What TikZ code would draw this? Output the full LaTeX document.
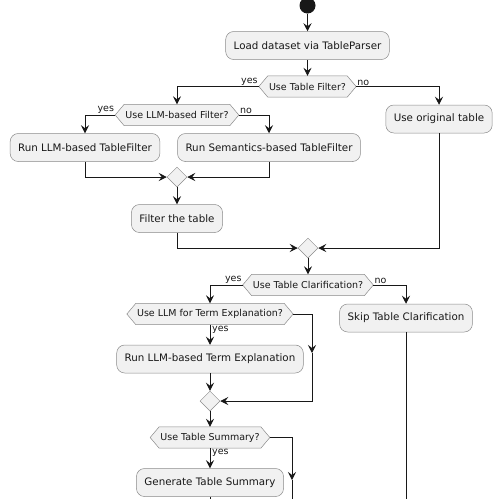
\documentclass[tikz,border=0pt]{standalone}
\usepackage{fontspec}
\setmainfont{DejaVu Sans}
\usetikzlibrary{arrows.meta,shapes.geometric,backgrounds}
\definecolor{boxfill}{HTML}{F1F1F1}
\definecolor{linecol}{HTML}{181818}
\definecolor{bordercol}{HTML}{8A8A8A}
\tikzset{
  actbox/.style={rectangle, rounded corners=8pt, draw=bordercol, fill=boxfill, line width=0.5pt,
    minimum height=28pt, inner xsep=8pt, inner ysep=0pt, font=\fontsize{10.3}{12}\selectfont, text=linecol},
  hexbox/.style={rectangle, minimum height=21pt, inner xsep=10pt, inner ysep=0pt,
    font=\fontsize{9.5}{11}\selectfont, text=linecol},
  hexline/.style={draw=bordercol, fill=boxfill, line width=0.5pt},
  merge/.style={diamond, draw=bordercol, fill=boxfill, line width=0.5pt, minimum width=20pt, minimum height=20pt, inner sep=0pt},
  startdot/.style={circle, fill=linecol, minimum size=16pt, inner sep=0pt},
  flow/.style={draw=linecol, line width=0.8pt},
  arr/.style={flow, -{Stealth[length=8pt,width=8pt,inset=3pt]}},
  lbl/.style={font=\fontsize{9.5}{11}\selectfont, text=linecol, inner sep=1pt},
}
\begin{document}
\begin{tikzpicture}[x=1pt,y=-1pt]
\useasboundingbox (0,0) rectangle (500,499);
\node[startdot] (start) at (307.5,5.5) {};
\node[actbox] (b1) at (307.5,45.5) {Load dataset via TableParser};
\node[hexbox] (d1) at (307.5,86.5) {Use Table Filter?};
\node[hexbox] (d2) at (177,115) {Use LLM-based Filter?};
\node[actbox] (b2) at (439,119) {Use original table};
\node[actbox] (b3) at (85,147.5) {Run LLM-based TableFilter};
\node[actbox] (b4) at (269,147.5) {Run Semantics-based TableFilter};
\node[merge] (m1) at (177,177) {};
\node[actbox] (b5) at (177,218.5) {Filter the table};
\node[merge] (m2) at (308,248) {};
\node[hexbox] (d3) at (308,285) {Use Table Clarification?};
\node[hexbox] (d4) at (210,314) {Use LLM for Term Explanation?};
\node[actbox] (b6) at (406,318) {Skip Table Clarification};
\node[actbox] (b7) at (210,359) {Run LLM-based Term Explanation};
\node[merge] (m3) at (210,401) {};
\node[hexbox] (d5) at (210,437.5) {Use Table Summary?};
\node[actbox] (b8) at (210,482.5) {Generate Table Summary};
\begin{scope}[on background layer]
\foreach \n in {d1,d2,d3,d4,d5}
  \draw[hexline] (\n.west) -- ([xshift=9pt]\n.north west) -- ([xshift=-9pt]\n.north east)
    -- (\n.east) -- ([xshift=-9pt]\n.south east) -- ([xshift=9pt]\n.south west) -- cycle;
\end{scope}
\coordinate (t1) at (312,353);
\coordinate (t2) at (292,480);
\coordinate (e1) at (292,499);
\coordinate (e2) at (406,499);
\coordinate (e3) at (210,499);
% connectors
\draw[arr] (start) -- (b1);
\draw[arr] (b1) -- (d1);
\draw[arr] (d1.west) -| (d2.north);
\draw[arr] (d1.east) -| (b2.north);
\node[lbl, anchor=south east] at (d1.west) {yes};
\node[lbl, anchor=south west] at (d1.east) {no};
\draw[arr] (d2.west) -| (b3.north);
\draw[arr] (d2.east) -| (b4.north);
\node[lbl, anchor=south east] at (d2.west) {yes};
\node[lbl, anchor=south west] at (d2.east) {no};
\draw[arr] (b3.south) |- (m1.west);
\draw[arr] (b4.south) |- (m1.east);
\draw[arr] (m1.south) -- (b5.north);
\draw[arr] (b5.south) |- (m2.west);
\draw[arr] (b2.south) |- (m2.east);
\draw[arr] (m2.south) -- (d3.north);
\draw[arr] (d3.west) -| (d4.north);
\draw[arr] (d3.east) -| (b6.north);
\node[lbl, anchor=south east] at (d3.west) {yes};
\node[lbl, anchor=south west] at (d3.east) {no};
\draw[arr] (d4.south) -- (b7.north);
\node[lbl, anchor=north west, xshift=1pt] at (d4.south) {yes};
\draw[arr] (d4.east) -| (t1);
\draw[arr] (t1) |- (m3.east);
\draw[arr] (b7.south) -- (m3.north);
\draw[arr] (m3.south) -- (d5.north);
\draw[arr] (d5.south) -- (b8.north);
\node[lbl, anchor=north west, xshift=1pt] at (d5.south) {yes};
\draw[arr] (d5.east) -| (t2);
\draw[flow] (t2) -- (e1);
\draw[flow] (b6.south) -- (e2);
\draw[flow] (b8.south) -- (e3);
\end{tikzpicture}
\end{document}
